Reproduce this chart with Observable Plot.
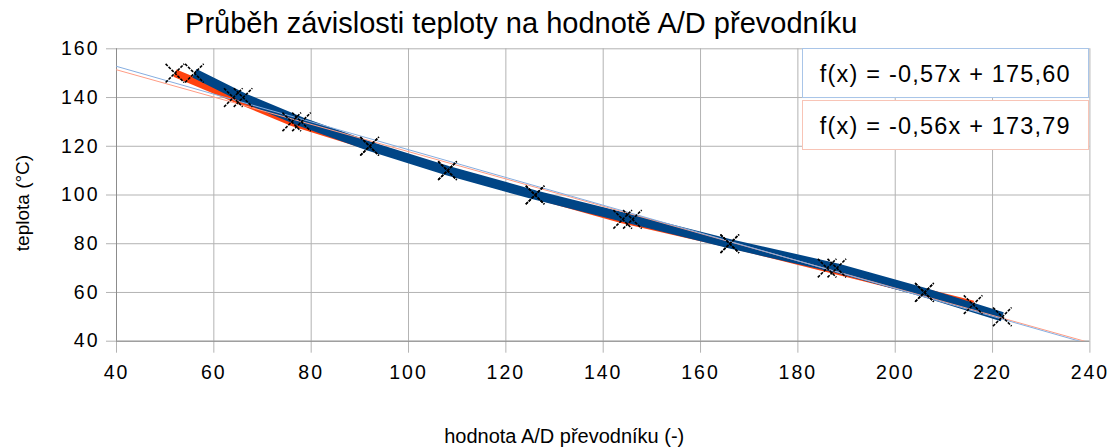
<!DOCTYPE html>
<html><head><meta charset="utf-8">
<script src="https://cdn.jsdelivr.net/npm/d3@7"></script>
<script src="https://cdn.jsdelivr.net/npm/@observablehq/plot@0.6"></script>
<style>
body{margin:0;background:#fff}
#chart{position:relative;width:1109px;height:447px;font-family:"Liberation Sans",Arial,sans-serif}
.eq{position:absolute;box-sizing:border-box;background:#fff;display:flex;align-items:center;justify-content:center;font-size:23.5px;letter-spacing:1.2px;color:#000;white-space:nowrap;padding-top:2px}
g[aria-label="x-axis tick label"] text{letter-spacing:2px}
g[aria-label="y-axis tick label"] text{letter-spacing:2px}
g[aria-label="title"] text{letter-spacing:2.4px}
g[aria-label="x-title"] text{letter-spacing:1.9px}
g[aria-label="y-title"] text{letter-spacing:1.5px}
</style></head><body><div id="chart"></div>
<script>
const title = "Průběh závislosti teploty na hodnotě A/D převodníku";
const xLabel = "hodnota A/D převodníku (-)";
const yLabel = "teplota (°C)";
const xTicks = [40, 60, 80, 100, 120, 140, 160, 180, 200, 220, 240];
const yTicks = [40, 60, 80, 100, 120, 140, 160];
const blueX = [56, 66, 78, 92, 108, 126, 146, 166, 188, 206, 222];
const blueY = [150, 140, 130, 120, 110, 100, 90, 80, 70, 60, 50];
const redX  = [52, 64, 76, 92, 108, 126, 144, 166, 186, 206, 216];
const redY  = [150, 140, 130, 120, 110, 100, 90, 80, 70, 60, 55];
const trendSlope = [-0.57, -0.56];
const trendIntercept = [175.60, 173.79];
const seriesColor = ["#004586", "#ff420e"];
const trendColor = ["#86aee0", "#ff9c84"];
const boxColor = ["#a9c5e8", "#f8c4b6"];

const blue = blueX.map((x, i) => ({x, y: blueY[i]}));
const red = redX.map((x, i) => ({x, y: redY[i]}));
const xDom = [xTicks[0], xTicks[xTicks.length - 1]];
const yDom = [yTicks[0], yTicks[yTicks.length - 1]];
const trends = trendSlope.map((s, k) => xDom.map(x => ({x, y: s * x + trendIntercept[k], k})));

const plot = Plot.plot({
  width: 1109, height: 447,
  marginLeft: 116, marginRight: 19.6, marginTop: 48.3, marginBottom: 106.3,
  style: {fontFamily: "Liberation Sans, Arial, sans-serif", background: "white", overflow: "visible", color: "black"},
  x: {domain: xDom},
  y: {domain: yDom},
  marks: [
    Plot.gridX(xTicks, {stroke: "#b3b3b3", strokeOpacity: 1}),
    Plot.gridY(yTicks, {stroke: "#b3b3b3", strokeOpacity: 1}),
    Plot.axisX(xTicks, {tickSize: 12, tickPadding: 12, stroke: "#b3b3b3", strokeOpacity: 1, fill: "black", fontSize: 19.5, label: null}),
    Plot.axisY(yTicks, {tickSize: 10, tickPadding: 7, stroke: "#b3b3b3", strokeOpacity: 1, fill: "black", fontSize: 19.5, label: null}),
    Plot.ruleX([xDom[0]], {stroke: "#8c8c8c"}),
    Plot.ruleY([yDom[0]], {stroke: "#8c8c8c"}),
    Plot.line(red, {x: "x", y: "y", stroke: seriesColor[1], strokeWidth: 8, strokeLinejoin: "round", strokeLinecap: "butt"}),
    Plot.line(blue, {x: "x", y: "y", stroke: seriesColor[0], strokeWidth: 9.5, strokeLinejoin: "round", strokeLinecap: "butt"}),
    Plot.line(trends[1], {x: "x", y: "y", stroke: trendColor[1], strokeWidth: 1, clip: true}),
    Plot.line(trends[0], {x: "x", y: "y", stroke: trendColor[0], strokeWidth: 1, clip: true}),
    Plot.dot(red, {x: "x", y: "y", symbol: "times", r: 8.5, stroke: "black", strokeWidth: 1.6, strokeDasharray: "3,1.2"}),
    Plot.dot(blue, {x: "x", y: "y", symbol: "times", r: 8.5, stroke: "black", strokeWidth: 1.6, strokeDasharray: "3,1.2"}),
    Plot.text([title], {frameAnchor: "top", dx: -82, dy: -25, fontSize: 29, lineAnchor: "middle", textAnchor: "middle", fill: "black", ariaLabel: "title"}),
    Plot.text([xLabel], {frameAnchor: "bottom", dx: -39, dy: 95, fontSize: 20, lineAnchor: "middle", textAnchor: "middle", fill: "black", ariaLabel: "x-title"}),
    Plot.text([yLabel], {frameAnchor: "left", dx: -93.5, dy: 8, rotate: -90, fontSize: 19, lineAnchor: "middle", textAnchor: "middle", fill: "black", ariaLabel: "y-title"})
  ]
});
const chart = document.getElementById("chart");
chart.appendChild(plot);

const fmt = v => v.toFixed(2).replace(".", ",");
const boxTops = [48.3, 100];
trendSlope.forEach((s, k) => {
  const d = document.createElement("div");
  d.className = "eq";
  d.style.left = "801.7px";
  d.style.top = boxTops[k] + "px";
  d.style.width = "287.3px";
  d.style.height = "50px";
  d.style.border = "1px solid " + boxColor[k];
  d.textContent = `f(x) = ${fmt(s)}x + ${fmt(trendIntercept[k])}`;
  chart.appendChild(d);
});
</script></body></html>
